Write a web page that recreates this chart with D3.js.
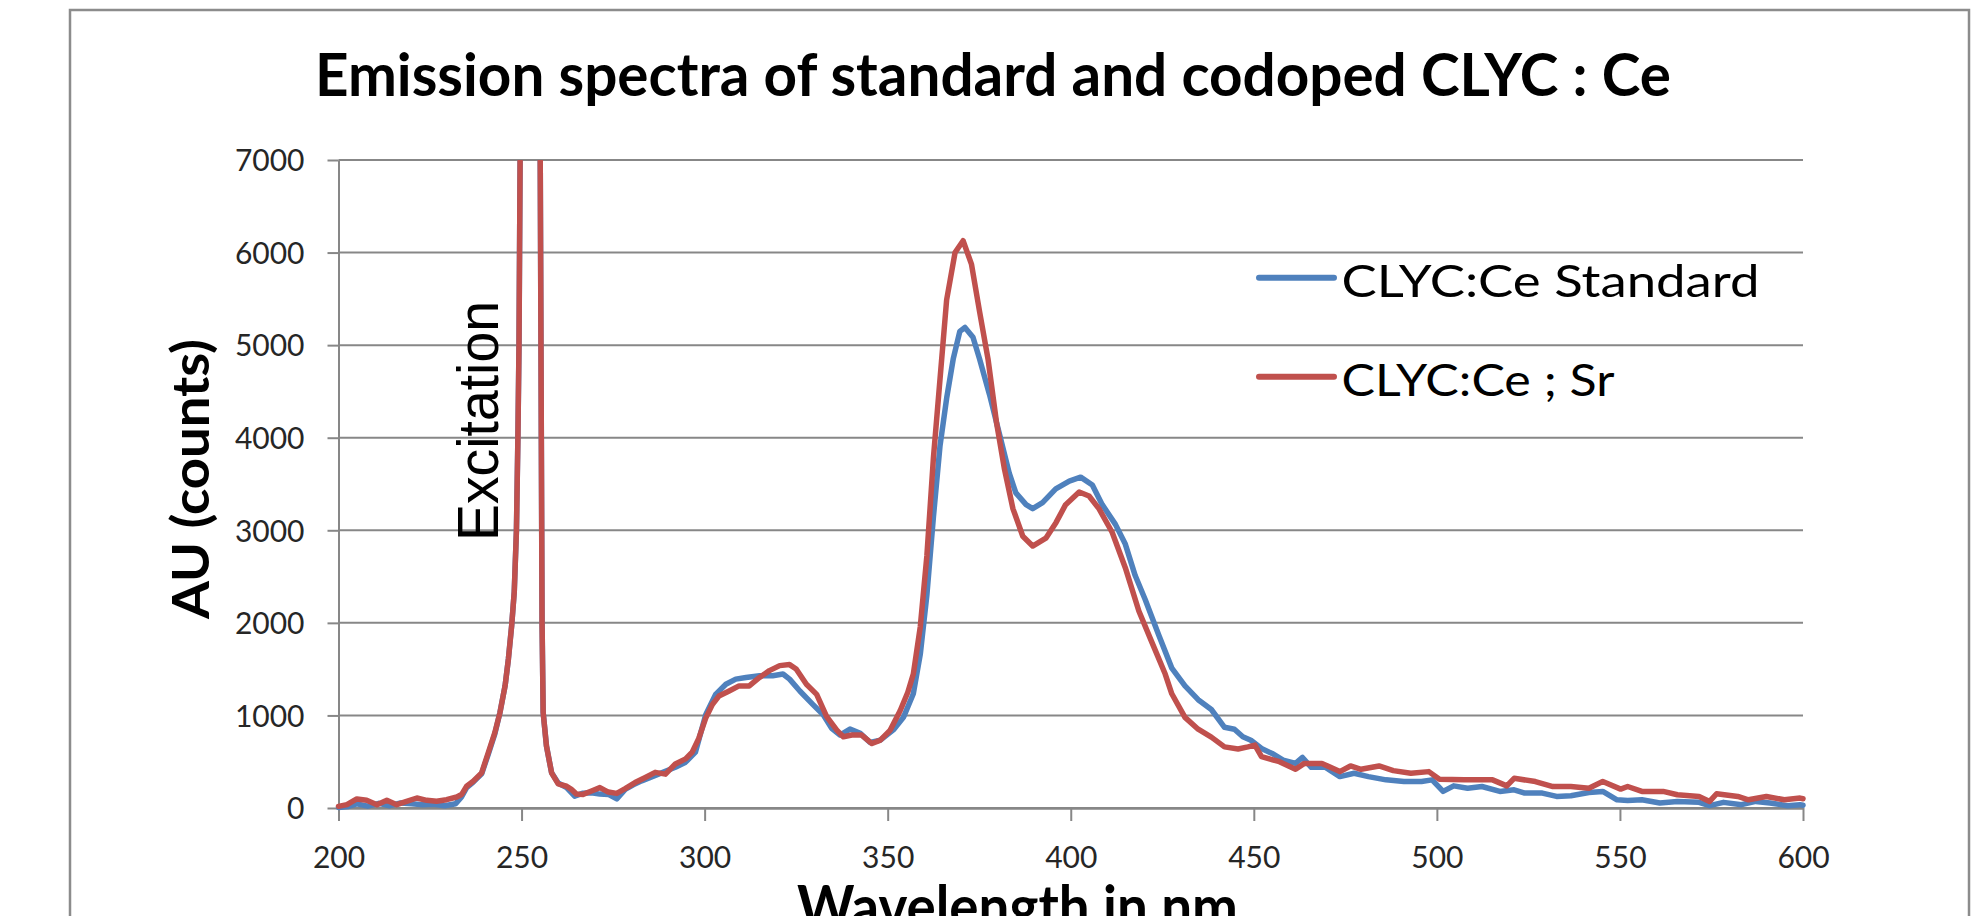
<!DOCTYPE html>
<html><head><meta charset="utf-8">
<script src="https://cdn.jsdelivr.net/npm/d3@7"></script>
<style>html,body{margin:0;padding:0;background:#fff;overflow:hidden;} svg{display:block;}</style>
</head><body>
<svg id="chart" width="1988" height="916"></svg>
<script>
// ---------------- data ----------------
const chartTitle = "Emission spectra of standard and codoped CLYC : Ce";
const xTitle = "Wavelength in nm";
const yTitle = "AU (counts)";
const annotationText = "Excitation";
const seriesNames = ["CLYC:Ce Standard", "CLYC:Ce ; Sr"];
const xTicks = [200, 250, 300, 350, 400, 450, 500, 550, 600];
const yTicks = [0, 1000, 2000, 3000, 4000, 5000, 6000, 7000];

const stdWavelength = [200,202.5,205,208,211,214,217,220,223,226,229,232,233.6,235,236.8,239.1,240.9,242.7,244.1,245.5,246.4,247.3,248,248.6,249,249.3,249.6,250.2,252,254.3,255.1,255.4,255.6,255.9,256.8,258.2,260,262.3,264.5,266.8,269.1,271.4,273.7,276,278.3,280.5,282.8,287.4,292,294.8,297.5,300.3,303,305.8,308.5,311.3,315,318.6,321.4,323.2,326,329.6,332.4,334.7,337,339.7,342.5,345.2,348,351.7,354.3,357,358.9,360.7,362.5,364.3,366.1,367.9,369.7,371.1,373.3,375.1,377.8,380.5,383.2,385,387.8,389.6,392.3,395.9,399.6,402.7,405.9,408.6,412.2,414.9,417.6,420.3,424,427.6,431.2,434.8,438.4,442,444.7,447,449.2,452.1,455,458,461.4,463.3,465.7,469.6,473.5,477.4,481.3,486.1,491,495.8,498.7,501.7,504.6,508.4,512.3,517.2,521.1,524,528.8,532.7,536.6,541.5,545.3,549.2,552.1,556,560.9,565.7,571.6,574.5,578.3,583.2,587.1,591,595.8,599.2,600];
const stdCounts = [5,15,45,20,50,25,55,45,35,40,25,45,120,220,280,370,580,800,1031,1320,1609,1971,2333,3000,4000,5000,7000,10000,14000,10000,7000,4000,2000,1031,669,380,270,220,128,160,165,150,147,99,201,250,293,366,440,495,604,1007,1227,1337,1392,1410,1429,1429,1447,1392,1264,1117,1007,861,788,853,806,707,733,850,979,1234,1660,2298,3149,3915,4426,4851,5149,5191,5085,4851,4468,4043,3617,3404,3277,3234,3298,3447,3532,3574,3489,3277,3064,2851,2511,2255,1872,1511,1319,1170,1064,872,851,770,732,643,589,518,482,546,439,439,339,375,339,304,286,286,304,179,239,214,232,179,196,161,161,125,132,168,179,89,82,89,54,71,61,25,61,36,71,54,25,36,30];

const srWavelength = [200,202.3,205,207.7,210.5,213.2,215.9,218.6,221.4,224.1,226.8,229.5,232.3,233.6,235,236.8,239.1,240.9,242.7,244.1,245.5,246.4,247.3,248,248.6,249,249.3,249.6,250.2,252,254.3,255.1,255.4,255.6,255.9,256.8,258.2,260,262.3,263.6,265,266.8,269.1,271.4,273.7,276,278.3,281,283.8,286.5,289.3,292,294.8,296.6,298.4,300.3,302.1,303.9,306.7,309.4,312.2,315,317.7,320.5,323.2,325,327.8,330.6,333.3,336.1,337.9,340.2,342.9,345.7,348,350.7,353.4,355.5,357,358.9,360.7,362.5,364.3,366.1,368.4,370.6,372.9,375.1,377.4,379.7,381.9,384.2,386.9,389.6,393.2,396,398.6,402.3,405,407.7,411.3,414.9,418.6,422.2,425.8,427.6,431.2,434.8,438.4,442,445.7,448.4,450.3,452.1,457,461.4,463.8,468.6,473.5,476.4,479.3,484.2,488.1,492.9,497.8,500.7,507.5,515.2,519.1,521.1,526.9,531.7,536.6,541.5,545.3,550.2,552.1,556,561.8,565.7,571.6,574.5,576.4,582.2,585.1,590,594.9,599.2,600];
const srCounts = [18,36,98,83,36,83,36,72,108,83,72,90,119,145,235,289,380,597,814,1031,1320,1609,1971,2333,3000,4000,5000,7000,10000,14000,10000,7000,4000,2000,1031,669,380,260,235,201,150,147,183,220,172,158,209,275,330,385,366,476,531,604,751,971,1117,1209,1264,1319,1319,1410,1484,1538,1549,1502,1337,1227,989,842,769,788,788,696,733,842,1050,1250,1447,1957,2723,3787,4638,5489,6000,6128,5872,5362,4851,4170,3660,3234,2936,2830,2915,3085,3277,3413,3370,3234,2979,2596,2128,1787,1447,1234,979,851,766,660,638,660,679,554,500,418,482,482,393,454,418,454,404,375,393,311,304,304,239,321,286,232,232,214,286,204,232,179,179,143,125,71,154,125,89,125,89,107,100];

// ---------------- layout ----------------
const plot = {left: 338.5, right: 1803, top: 160, bottom: 808};
const colors = {std: "#4f81bd", sr: "#c0504d", grid: "#878787", frame: "#8c8c8c", text: "#262626"};

const svg = d3.select("#chart");

// outer frame
svg.append("rect").attr("x", 70).attr("y", 10).attr("width", 1899).attr("height", 960)
  .attr("fill", "#fff").attr("stroke", colors.frame).attr("stroke-width", 2.5);

const x = d3.scaleLinear().domain([200, 600]).range([plot.left, plot.right]);
const y = d3.scaleLinear().domain([0, 7000]).range([plot.bottom, plot.top]);

// gridlines
svg.append("g").selectAll("line").data(yTicks).join("line")
  .attr("x1", plot.left).attr("x2", plot.right)
  .attr("y1", d => y(d)).attr("y2", d => y(d))
  .attr("stroke", colors.grid).attr("stroke-width", 2);

// y axis
const yAxis = svg.append("g").attr("transform", `translate(${plot.left},0)`)
  .call(d3.axisLeft(y).tickValues(yTicks).tickSize(11).tickSizeOuter(0).tickPadding(23).tickFormat(d3.format("d")));
yAxis.select(".domain").attr("stroke", colors.grid).attr("stroke-width", 2);
yAxis.selectAll(".tick line").attr("stroke", colors.grid).attr("stroke-width", 2);
yAxis.selectAll(".tick text").attr("font-family", "Lato, 'Open Sans', sans-serif")
  .attr("font-size", 30).attr("fill", colors.text).attr("dy", "0.36em");

// x axis
const xAxis = svg.append("g").attr("transform", `translate(0,${plot.bottom})`)
  .call(d3.axisBottom(x).tickValues(xTicks).tickSize(13).tickSizeOuter(0).tickPadding(0).tickFormat(d3.format("d")));
xAxis.select(".domain").attr("stroke", colors.grid).attr("stroke-width", 2.5);
xAxis.selectAll(".tick line").attr("stroke", colors.grid).attr("stroke-width", 2);
xAxis.selectAll(".tick text").attr("font-family", "Lato, 'Open Sans', sans-serif")
  .attr("font-size", 30).attr("fill", colors.text).attr("dy", null).attr("y", 60);

// clip
svg.append("clipPath").attr("id", "plotclip").append("rect")
  .attr("x", plot.left - 10).attr("y", plot.top)
  .attr("width", plot.right - plot.left + 20).attr("height", plot.bottom - plot.top + 10);

const line = d3.line().x(d => x(d[0])).y(d => y(d[1]));
const stdData = stdWavelength.map((w, i) => [w, stdCounts[i]]);
const srData = srWavelength.map((w, i) => [w, srCounts[i]]);

const lines = svg.append("g").attr("clip-path", "url(#plotclip)");
lines.append("path").datum(stdData).attr("d", line).attr("fill", "none")
  .attr("stroke", colors.std).attr("stroke-width", 5.5).attr("stroke-linejoin", "round").attr("stroke-linecap", "round");
lines.append("path").datum(srData).attr("d", line).attr("fill", "none")
  .attr("stroke", colors.sr).attr("stroke-width", 5.5).attr("stroke-linejoin", "round").attr("stroke-linecap", "round");

// legend
const legend = [
  {name: seriesNames[0], color: colors.std, y: 277.7, len: 418},
  {name: seriesNames[1], color: colors.sr, y: 376.7, len: 273}
];
const lg = svg.append("g");
legend.forEach(l => {
  lg.append("line").attr("x1", 1259).attr("x2", 1334).attr("y1", l.y).attr("y2", l.y)
    .attr("stroke", l.color).attr("stroke-width", 6).attr("stroke-linecap", "round");
  lg.append("text").attr("x", 1341.5).attr("y", l.y + 19)
    .attr("font-family", "Lato, 'Open Sans', sans-serif").attr("font-size", 45).attr("fill", "#000")
    .attr("textLength", l.len).attr("lengthAdjust", "spacingAndGlyphs").text(l.name);
});

// title
svg.append("text").attr("x", 315).attr("y", 96)
  .attr("font-family", "Lato, 'Open Sans', sans-serif").attr("font-weight", "bold").attr("font-size", 59)
  .attr("fill", "#000").attr("textLength", 1356).attr("lengthAdjust", "spacingAndGlyphs").text(chartTitle);

// x title (cut by the bottom edge, as in the reference)
svg.append("text").attr("x", 797).attr("y", 927.5)
  .attr("font-family", "Lato, 'Open Sans', sans-serif").attr("font-weight", "bold").attr("font-size", 59)
  .attr("fill", "#000").attr("textLength", 441).attr("lengthAdjust", "spacingAndGlyphs").text(xTitle);

// y title
svg.append("text").attr("transform", "translate(209,479) rotate(-90)").attr("text-anchor", "middle")
  .attr("font-family", "Lato, 'Open Sans', sans-serif").attr("font-weight", "bold").attr("font-size", 52)
  .attr("fill", "#000").attr("textLength", 280).attr("lengthAdjust", "spacingAndGlyphs").text(yTitle);

// annotation
svg.append("text").attr("transform", "translate(498,421) rotate(-90)").attr("text-anchor", "middle")
  .attr("font-family", "'Liberation Sans', Arial, sans-serif").attr("font-size", 57)
  .attr("fill", "#000").attr("textLength", 240).attr("lengthAdjust", "spacingAndGlyphs").text(annotationText);
</script>
</body></html>
